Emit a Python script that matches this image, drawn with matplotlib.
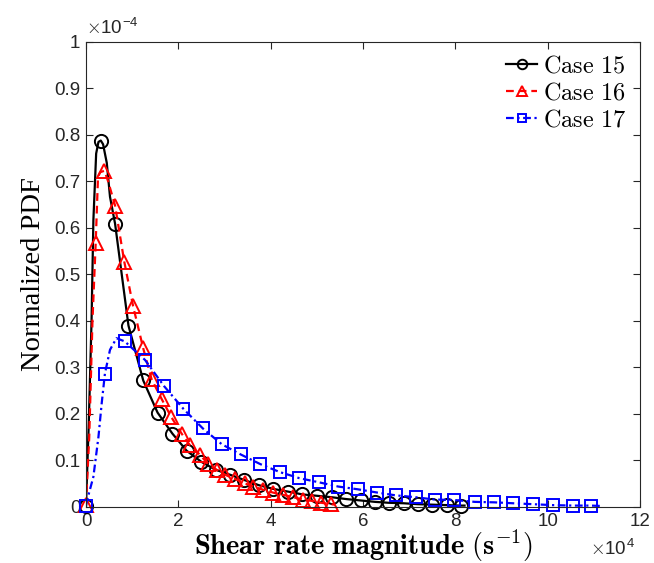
import numpy as np
import matplotlib
matplotlib.use("Agg")
import matplotlib.pyplot as plt
from matplotlib.lines import Line2D

plt.rcParams['mathtext.fontset'] = 'cm'
plt.rcParams['font.family'] = ['Liberation Sans', 'DejaVu Sans']

# x in 1e4 s^-1, y in 1e-4
# Case 15 markers
x15 = [0, 0.32, 0.63, 0.92, 1.24, 1.55, 1.87, 2.18, 2.50, 2.81, 3.13, 3.43, 3.74, 4.05,
       4.38, 4.69, 5.01, 5.32, 5.64, 5.95, 6.26, 6.56, 6.88, 7.19, 7.50, 7.81, 8.12]
y15 = [0.003, 0.788, 0.609, 0.390, 0.272, 0.203, 0.158, 0.121, 0.097, 0.080, 0.069, 0.058,
       0.047, 0.039, 0.033, 0.027, 0.024, 0.021, 0.017, 0.014, 0.011, 0.009, 0.008, 0.006,
       0.005, 0.004, 0.003]
# extra curve points read between markers
x15_c = [0.06, 0.12, 0.16, 0.22, 0.27, 0.37, 0.45, 0.52, 8.2]
y15_c = [0.18, 0.40, 0.617, 0.76, 0.785, 0.78, 0.74, 0.667, 0.003]

# Case 16 markers
x16 = [0, 0.21, 0.40, 0.63, 0.83, 1.02, 1.24, 1.42, 1.64, 1.85, 2.07, 2.25, 2.47, 2.65,
       2.83, 3.02, 3.23, 3.44, 3.62, 3.84, 4.05, 4.27, 4.49, 4.70, 4.90, 5.10, 5.30]
y16 = [0.005, 0.568, 0.723, 0.648, 0.527, 0.432, 0.341, 0.275, 0.232, 0.193, 0.158, 0.133,
       0.112, 0.092, 0.080, 0.069, 0.060, 0.051, 0.044, 0.037, 0.031, 0.026, 0.021, 0.016,
       0.013, 0.009, 0.006]
x16_c = [0.07, 0.14, 0.26, 0.31, 0.48, 5.4]
y16_c = [0.15, 0.40, 0.71, 0.72, 0.70, 0.005]

# Case 17 markers
x17 = [0, 0.41, 0.84, 1.28, 1.69, 2.11, 2.53, 2.94, 3.35, 3.78, 4.20, 4.62, 5.05, 5.46,
       5.89, 6.31, 6.71, 7.14, 7.55, 7.98, 8.42, 8.84, 9.25, 9.68, 10.11, 10.55, 10.94]
y17 = [0.003, 0.287, 0.356, 0.316, 0.260, 0.211, 0.169, 0.135, 0.113, 0.092, 0.075, 0.062,
       0.053, 0.044, 0.038, 0.031, 0.025, 0.021, 0.016, 0.015, 0.011, 0.010, 0.008, 0.006,
       0.004, 0.003, 0.003]
x17_c = [0.014, 0.16, 0.27, 0.34, 0.52, 0.66, 11.2]
y17_c = [0.011, 0.065, 0.151, 0.223, 0.338, 0.363, 0.002]

labels = ['Case 15', 'Case 16', 'Case 17']
colors = ['k', 'r', 'b']
dashes = [None, (3.5, 2.2), (3.5, 1.6, 1.0, 1.6)]
marks = ['o', '^', 's']
msizes = [9.5, 10, 8]


def curve(xm, ym, xc, yc):
    xs = np.concatenate([xm, xc])
    ys = np.concatenate([ym, yc])
    o = np.argsort(xs)
    return xs[o], ys[o]


fig = plt.figure(figsize=(6.54, 5.63), dpi=100)
ax = fig.add_axes([0.1315, 0.0995, 0.847, 0.826])

series = [(x15, y15, x15_c, y15_c), (x16, y16, x16_c, y16_c), (x17, y17, x17_c, y17_c)]
handles = []
for (xm, ym, xc, yc), c, d, m, ms, lab in zip(series, colors, dashes, marks, msizes, labels):
    xs, ys = curve(xm, ym, xc, yc)
    ln, = ax.plot(xs, ys, color=c, lw=1.6)
    if d is not None:
        ln.set_dashes(d)
    ax.plot(xm, ym, ls='none', marker=m, ms=ms, mfc='none', mec=c, mew=1.4, clip_on=False)
    h = Line2D([], [], color=c, lw=1.6, marker=m, ms=ms * 0.72,
               mfc='none', mec=c, mew=1.4, label=r'$\mathrm{' + lab.replace(' ', r'\ ') + '}$')
    if d is not None:
        h.set_dashes(d)
    handles.append(h)

ax.set_xlim(0, 12)
ax.set_ylim(0, 1)
ax.set_xticks(np.arange(0, 13, 2))
ax.set_yticks(np.arange(0, 1.01, 0.1))
ax.set_yticklabels(['0', '0.1', '0.2', '0.3', '0.4', '0.5', '0.6', '0.7', '0.8', '0.9', '1'])
ax.tick_params(direction='in', top=True, right=True, length=5, width=0.8,
               labelsize=13.5, color='0.15', labelcolor='0.15', pad=4)
for s in ax.spines.values():
    s.set_color('0.15')
    s.set_linewidth(0.8)

ax.set_xlabel(r'$\mathbf{Shear\ rate\ magnitude\ (s^{-1})}$', fontsize=20.5, labelpad=-1)
ax.set_ylabel('Normalized PDF', fontsize=20.5, family='Liberation Serif', labelpad=6)

ax.text(0.0, 1.008, r'$\times$10$^{\mathregular{-4}}$', transform=ax.transAxes,
        fontsize=13.5, color='0.15', ha='left', va='bottom')
ax.text(0.91, -0.068, r'$\times$10$^{\mathregular{4}}$', transform=ax.transAxes,
        fontsize=13.5, color='0.15', ha='left', va='top')

ax.legend(handles=handles, loc='upper right', frameon=False, fontsize=17.5,
          handlelength=1.3, handletextpad=0.25, labelspacing=0.2, borderaxespad=0.15)

fig.savefig('out.png', dpi=100)
